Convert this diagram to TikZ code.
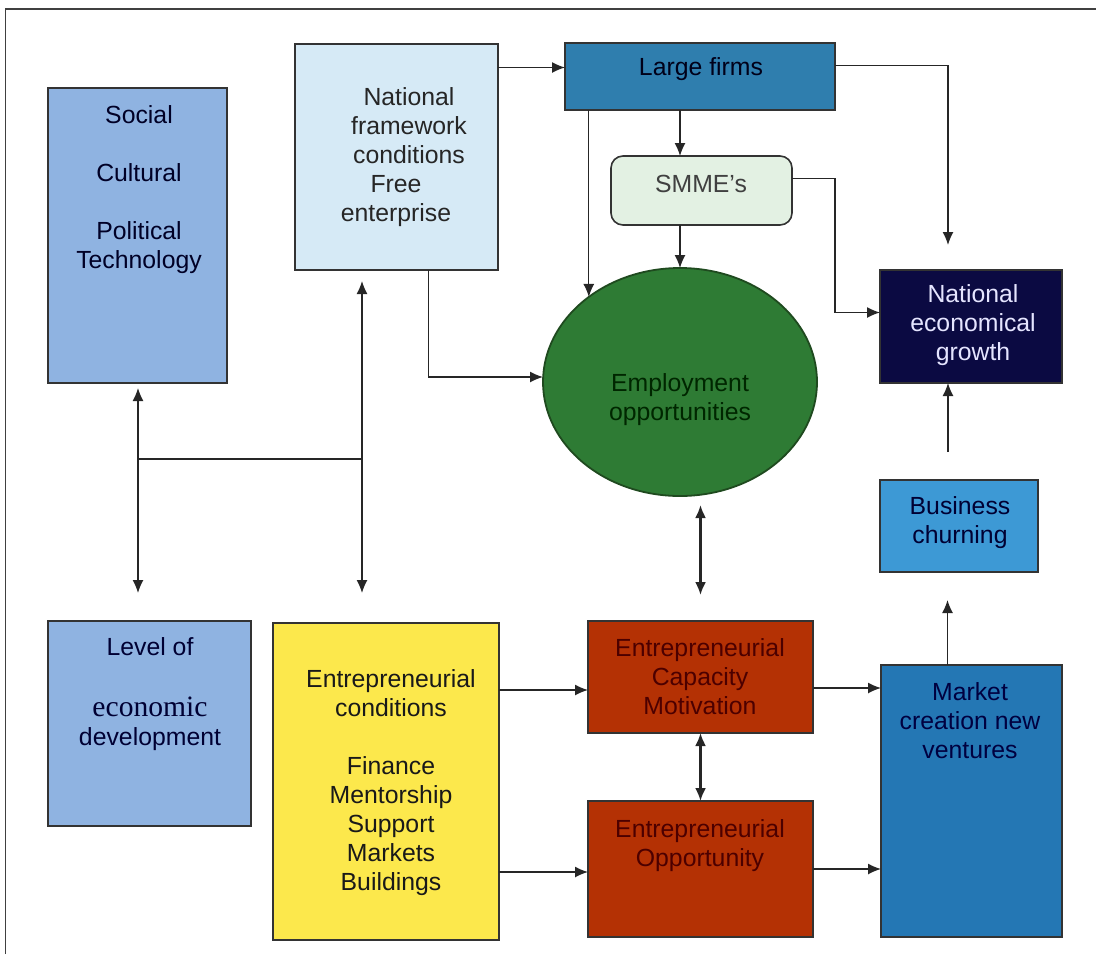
\documentclass[tikz,border=0pt]{standalone}
\usepackage{fontspec}
\setmainfont{Liberation Sans}
\newfontfamily\serifword{Liberation Serif}
\usetikzlibrary{arrows.meta, shapes.geometric}
\definecolor{socblue}{HTML}{8FB3E1}
\definecolor{nfblue}{HTML}{D6EAF6}
\definecolor{lfblue}{HTML}{2F7EAE}
\definecolor{smegreen}{HTML}{E3F1E3}
\definecolor{empgreen}{HTML}{2E7B34}
\definecolor{empedge}{HTML}{1F4A1F}
\definecolor{navy}{HTML}{0B0A42}
\definecolor{bchblue}{HTML}{3D99D5}
\definecolor{condyellow}{HTML}{FCE84C}
\definecolor{entred}{HTML}{B43104}
\definecolor{mktblue}{HTML}{2477B4}
\begin{document}
\begin{tikzpicture}[x=0.5pt, y=-0.5pt, >={Latex[length=6.5pt,width=5.5pt]}, box/.style = {rectangle, draw=black!80, line width=0.8pt, inner sep=0pt, outer sep=0pt}, txt/.style = {align=center, inner sep=0pt, font=\fontsize{12.4}{14.5}\selectfont}, link/.style = {line width=0.65pt, black!85}]
        \useasboundingbox (0,0) rectangle (1096,954);
        \draw[line width=0.8pt, black!75] (5.5,954) -- (5.5,9) -- (1096,9);

        \draw (137.5,235.5) node[box, fill=socblue, minimum width=89.5pt, minimum height=147.5pt] (soc) {};
        \draw (396.5,157) node[box, fill=nfblue, minimum width=101.5pt, minimum height=113pt] (nfc) {};
        \draw (700,76.5) node[box, fill=lfblue, minimum width=135pt, minimum height=33.5pt] (lfm) {};
        \draw (701.5,190.5) node[box, fill=smegreen, rounded corners=6pt, minimum width=90.5pt, minimum height=34.5pt] (sme) {};
        \draw (680,382) node[ellipse, draw=empedge, line width=0.9pt, fill=empgreen, inner sep=0pt, outer sep=0pt, minimum width=137pt, minimum height=114pt] (emp) {};
        \draw (971,326.5) node[box, fill=navy, minimum width=91pt, minimum height=56.5pt] (neg) {};
        \draw (959,526) node[box, fill=bchblue, minimum width=79pt, minimum height=46pt] (bch) {};
        \draw (149.5,723.5) node[box, fill=socblue, minimum width=101.5pt, minimum height=102.5pt] (lev) {};
        \draw (386,781.5) node[box, fill=condyellow, minimum width=113pt, minimum height=158.5pt] (ecn) {};
        \draw (700.5,677) node[box, fill=entred, minimum width=112.5pt, minimum height=56pt] (ecm) {};
        \draw (700.5,869) node[box, fill=entred, minimum width=112.5pt, minimum height=68pt] (eop) {};
        \draw (971.5,801) node[box, fill=mktblue, minimum width=90.5pt, minimum height=136pt] (mkt) {};

        \draw (139,189.5) node[txt, text=black!85!blue] (soctxt) {Social\\[14.5pt]Cultural\\[14.5pt]Political\\Technology};
        \draw (409,157.5) node[txt, text=black!85] (nfctxt) {National\\framework\\conditions\\\hspace*{-13pt}Free\\\hspace*{-13pt}enterprise};
        \draw (701,69) node[txt, text=black!90!blue] (lfmtxt) {Large firms};
        \draw (701,184) node[txt, text=black!75] (smetxt) {SMME's};
        \draw (680,400) node[txt, text=black!85!green] (emptxt) {Employment\\opportunities};
        \draw (973,325.5) node[txt, text=white!90!blue] (negtxt) {National\\economical\\growth};
        \draw (960,523) node[txt, text=black!80!blue] (bchtxt) {Business\\churning};
        \draw (150,694) node[txt, text=black!80!blue] (levtxt) {Level of\\[16pt]{\serifword\fontsize{14.8}{14.5}\selectfont economic}\\development};
        \draw (391,782.5) node[txt, text=black!90] (ecntxt) {Entrepreneurial\\conditions\\[14.5pt]Finance\\Mentorship\\Support\\Markets\\Buildings};
        \draw (700,677) node[txt, text=black!70!red] (ecmtxt) {Entrepreneurial\\Capacity\\Motivation};
        \draw (700,845.5) node[txt, text=black!70!red] (eoptxt) {Entrepreneurial\\Opportunity};
        \draw (970,721) node[txt, text=black!75!blue] (mkttxt) {Market\\creation new\\ventures};

        \coordinate (jn) at (362,459);
        \coordinate (js) at (138,459);

        \draw[link, ->] ([yshift=4.5pt]lfm.west -| nfc.east) -- ([yshift=4.5pt]lfm.west);
        \draw[link, ->] (emp.north |- lfm.south) -- (emp.north |- sme.north);
        \draw[link, ->] (emp.north |- sme.south) -- (emp.north);
        \draw[link, ->] (emp.137 |- lfm.south) -- (emp.137);
        \draw[link, ->] ([yshift=5.5pt]lfm.east) -| ([xshift=-11.5pt,yshift=12.5pt]neg.north);
        \draw[link, ->] ([yshift=6pt]sme.east) -- ++(21.5pt,0) |- ([yshift=7pt]neg.west);
        \draw[link, ->] ([xshift=16pt]nfc.south) |- ([yshift=2.5pt]emp.west);
        \draw[link, <->] ([yshift=-5.5pt]nfc.south -| jn) -- ([yshift=15pt]ecn.north -| jn);
        \draw[link, <->] ([yshift=-2.5pt]soc.south -| js) -- ([yshift=14pt]lev.north -| js);
        \draw[link] (js) -- (jn);
        \draw[link, <->, line width=1.1pt] ([yshift=-4.5pt]emp.south -| ecm.north) -- ([yshift=13pt]ecm.north);
        \draw[link, ->] ([yshift=-6.5pt]ecm.west -| ecn.east) -- ([yshift=-6.5pt]ecm.west);
        \draw[link, ->] ([yshift=-1.5pt]eop.west -| ecn.east) -- ([yshift=-1.5pt]eop.west);
        \draw[link, <->, line width=1.1pt] (ecm.south) -- (eop.north);
        \draw[link, ->] ([yshift=-5.5pt]ecm.east) -- ([yshift=-5.5pt]ecm.east -| mkt.west);
        \draw[link, ->] (eop.east) -- (eop.east -| mkt.west);
        \draw[link, ->] ([xshift=-12pt]mkt.north) -- ([xshift=-12pt,yshift=32.5pt]mkt.north);
        \draw[link, ->] ([xshift=-5.5pt,yshift=14pt]bch.north) -- ([xshift=-11.5pt]neg.south);
      \end{tikzpicture}
\end{document}
